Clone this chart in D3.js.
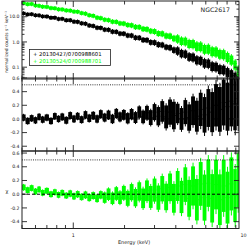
<!DOCTYPE html>
<html><head><meta charset="utf-8">
<script src="https://cdn.jsdelivr.net/npm/d3@7"></script>
<style>body{margin:0;background:#fff}svg{display:block}text{font-family:"DejaVu Sans",sans-serif}</style>
</head><body><svg id="c" width="249" height="249"></svg>
<script>
const energies=[0.51,0.54,0.57,0.60,0.63,0.66,0.70,0.74,0.78,0.82,0.86,0.91,0.96,1.01,1.06,1.12,1.18,1.24,1.31,1.38,1.45,1.53,1.61,1.70,1.79,1.88,1.98,2.09,2.20,2.32,2.44,2.57,2.71,2.85,3.00,3.16,3.33,3.51,3.70,3.90,4.10,4.32,4.55,4.79,5.05,5.32,5.60,5.90,6.21,6.54,6.89,7.26,7.64,8.05,8.48,8.93,9.3];
const greenCounts=[35.5,32,32.5,28.5,27.5,25.5,25,22.5,22,20,19.8,18.2,17.8,16.3,16.1,14.2,13.5,11.7,11.1,9.4,9.0,7.8,7.5,6.5,6.4,5.6,5.5,4.85,4.7,4.05,4.0,3.4,3.3,2.8,2.7,2.25,2.2,1.82,1.78,1.45,1.44,1.18,1.15,0.93,0.92,0.74,0.73,0.58,0.59,0.47,0.46,0.37,0.36,0.28,0.22,0.14,0.08];
const greenCountsErr=[7,6.5,6.5,5.8,5.6,5.2,5.1,4.6,4.5,4.1,4.1,3.8,3.7,3.4,3.4,3.0,2.9,2.5,2.4,2.1,2.0,1.75,1.7,1.5,1.5,1.35,1.35,1.2,1.2,1.05,1.05,0.92,0.92,0.78,0.78,0.66,0.66,0.56,0.56,0.47,0.6,0.5,0.5,0.42,0.42,0.35,0.35,0.28,0.29,0.23,0.23,0.18,0.18,0.14,0.11,0.07,0.04];
const blackCounts=[13.8,12.6,12.8,11.6,11.5,10.5,10.4,9.3,9.3,8.3,8.4,7.4,7.4,6.5,6.4,5.6,5.4,4.6,4.4,3.75,3.7,3.15,3.1,2.62,2.58,2.2,2.18,1.86,1.84,1.52,1.5,1.24,1.22,1.0,0.98,0.82,0.79,0.65,0.62,0.5,0.48,0.38,0.36,0.28,0.27,0.21,0.2,0.16,0.155,0.12,0.115,0.092,0.088,0.07,0.058,0.046,0.04];
const blackCountsErr=[2.7,2.5,2.5,2.3,2.3,2.1,2.1,1.9,1.9,1.7,1.7,1.55,1.55,1.38,1.38,1.2,1.15,1.0,0.97,0.84,0.83,0.72,0.71,0.62,0.61,0.53,0.53,0.46,0.46,0.39,0.39,0.33,0.33,0.28,0.28,0.24,0.23,0.19,0.19,0.16,0.2,0.16,0.15,0.12,0.12,0.095,0.09,0.075,0.072,0.058,0.055,0.045,0.043,0.035,0.029,0.023,0.02];
const blackResid=[0.02,-0.03,0.01,-0.02,0.03,-0.01,0.02,-0.03,0.04,0.0,0.03,-0.02,0.05,0.0,0.04,-0.01,0.06,0.01,0.05,0.0,0.07,0.02,0.06,0.0,0.08,0.03,0.06,0.01,0.07,0.02,0.1,0.03,0.09,0.02,0.1,0.04,0.11,0.03,0.1,0.05,0.08,0.0,0.1,0.02,0.12,0.04,0.14,0.06,0.16,0.1,0.2,0.14,0.24,0.18,0.26,0.22,0.3];
const blackResidErr=[0.055,0.055,0.055,0.055,0.055,0.055,0.055,0.055,0.055,0.055,0.06,0.06,0.06,0.06,0.06,0.06,0.065,0.065,0.065,0.065,0.07,0.07,0.075,0.075,0.08,0.08,0.085,0.09,0.09,0.095,0.1,0.11,0.12,0.13,0.14,0.16,0.18,0.2,0.22,0.24,0.17,0.19,0.21,0.23,0.25,0.27,0.29,0.31,0.33,0.35,0.37,0.39,0.4,0.42,0.44,0.46,0.48];
const greenResid=[0.1,0.06,0.09,0.04,0.07,0.02,0.05,0.0,0.03,-0.01,0.02,-0.02,0.01,-0.03,0.0,-0.04,-0.01,-0.05,-0.02,-0.06,-0.01,-0.05,0.0,-0.06,0.01,-0.05,0.02,-0.06,0.03,-0.05,0.04,-0.06,0.05,-0.04,0.06,-0.05,0.08,-0.04,0.1,-0.06,0.12,-0.04,0.14,-0.06,0.12,-0.08,0.15,-0.05,0.16,-0.06,0.14,-0.08,0.12,-0.05,0.15,-0.02,0.2];
const greenResidErr=[0.05,0.05,0.05,0.05,0.05,0.05,0.05,0.05,0.05,0.05,0.05,0.05,0.055,0.055,0.055,0.055,0.06,0.06,0.06,0.065,0.065,0.09,0.1,0.1,0.11,0.11,0.12,0.13,0.14,0.15,0.16,0.17,0.18,0.19,0.2,0.21,0.22,0.23,0.24,0.25,0.26,0.28,0.3,0.32,0.34,0.36,0.38,0.4,0.41,0.42,0.43,0.44,0.45,0.45,0.46,0.46,0.47];
const seriesNames=["20130427/0700988601","20130524/0700988701"];
const seriesColors=["#000000","#00ff00"];
const xMajor=[1,10], xMajorLabels=["1","10"];
const xMinor=[0.5,0.6,0.7,0.8,0.9,2,3,4,5,6,7,8,9];
const countTicks=[0.1,1,10], countTickLabels=["0.1","1.0","10.0"];
const countMinor=[0.04,0.05,0.06,0.07,0.08,0.09,0.2,0.3,0.4,0.5,0.6,0.7,0.8,0.9,2,3,4,5,6,7,8,9,20,30,40];
const residTicks=[-0.4,-0.2,0,0.2,0.4,0.6], residTickLabels=["-0.4","-0.2","0.0","0.2","0.4","0.6"];

const svg=d3.select("#c");
const L=22,R=239;
const x=d3.scaleLog().domain([0.5,9.4]).range([L,R]);
const panels=[
 {y:d3.scaleLog().domain([0.034,42]).range([79,1]),data:[[blackCounts,blackCountsErr],[greenCounts,greenCountsErr]],ticks:countTicks,labels:countTickLabels,minor:countMinor,log:true},
 {y:d3.scaleLinear().domain([-0.47,0.6]).range([151,78]),data:[[blackResid,blackResidErr]],colors:[0],ticks:residTicks,labels:residTickLabels,minor:[],lines:true},
 {y:d3.scaleLinear().domain([-0.5,0.63]).range([228.5,151]),data:[[greenResid,greenResidErr]],colors:[1],ticks:residTicks,labels:residTickLabels,minor:[],lines:true,xlabels:true}
];
const edges=energies.map((e,i)=>{
  const lo=i>0?Math.sqrt(energies[i-1]*e):e*e/Math.sqrt(e*energies[1]);
  const hi=i<energies.length-1?Math.sqrt(energies[i+1]*e):e*e/Math.sqrt(e*energies[i-1]);
  return [lo,hi];
});
panels.forEach((p,pi)=>{
  const [y0,y1]=p.y.range();
  const top=Math.min(y0,y1),bot=Math.max(y0,y1);
  const cid="clip"+pi;
  svg.append("clipPath").attr("id",cid).append("rect").attr("x",L).attr("y",top).attr("width",R-L).attr("height",bot-top);
  const g=svg.append("g").attr("clip-path",`url(#${cid})`);
  const floor=p.y.domain()[0]*0.5;
  p.data.forEach(([vals,errs],si)=>{
    const col=seriesColors[p.colors?p.colors[si]:si];
    const sg=g.append("g").attr("fill",col).attr("stroke",col);
    vals.forEach((v,i)=>{
      const lo=p.log?Math.max(v-errs[i],floor):v-errs[i];
      const ya=p.y(v+errs[i]), yb=p.y(lo);
      const xa=x(edges[i][0]), xb=x(edges[i][1]), xc=x(energies[i]);
      const f=p.log?0.12:0.08;
      sg.append("rect").attr("x",xa).attr("width",xb-xa).attr("y",ya+(yb-ya)*f).attr("height",(yb-ya)*(1-2*f)).attr("stroke","none");
      sg.append("line").attr("x1",xc).attr("x2",xc).attr("y1",yb).attr("y2",ya).attr("stroke-width",1);
      sg.append("line").attr("x1",xa).attr("x2",xb).attr("y1",p.y(v)).attr("y2",p.y(v)).attr("stroke-width",1);
    });
  });
  if(p.lines){
    g.append("line").attr("x1",L).attr("x2",R).attr("y1",p.y(0.5)).attr("y2",p.y(0.5)).attr("stroke","#000").attr("stroke-width",0.8).attr("stroke-dasharray","1,1.2");
    g.append("line").attr("x1",L).attr("x2",R).attr("y1",p.y(0)).attr("y2",p.y(0)).attr("stroke","#000").attr("stroke-width",1).attr("stroke-dasharray","3,2");
  }
  svg.append("rect").attr("x",L).attr("y",top).attr("width",R-L).attr("height",bot-top).attr("fill","none").attr("stroke","#222").attr("stroke-width",1);
  const tk=svg.append("g").attr("stroke","#222").attr("stroke-width",0.9);
  const xt=(v,len)=>{ if(v<0.5||v>9.4)return; const px=x(v);
    tk.append("line").attr("x1",px).attr("x2",px).attr("y1",bot).attr("y2",bot-len);
    tk.append("line").attr("x1",px).attr("x2",px).attr("y1",top).attr("y2",top+len);};
  xMajor.forEach(v=>xt(v,6)); xMinor.forEach(v=>xt(v,3.5));
  const yt=(v,len)=>{ const py=p.y(v); if(py<top-0.5||py>bot+0.5)return;
    tk.append("line").attr("x1",L).attr("x2",L+len).attr("y1",py).attr("y2",py);
    tk.append("line").attr("x1",R).attr("x2",R-len).attr("y1",py).attr("y2",py);};
  p.ticks.forEach(v=>yt(v,5)); p.minor.forEach(v=>yt(v,2.5));
  p.ticks.forEach((v,i)=>{ const py=p.y(v); if(py<top-2||py>bot+2)return;
    svg.append("text").attr("x",19.5).attr("y",py).attr("dy","0.35em").attr("text-anchor","end").attr("font-size",4.6).attr("fill","#222").text(p.labels[i]);});
  if(p.xlabels){
    xMajor.forEach((v,i)=>svg.append("text").attr("x",x(v)).attr("y",237).attr("text-anchor","middle").attr("font-size",4.8).attr("fill","#222").text(xMajorLabels[i]));
  }
});
svg.append("text").attr("transform","translate(7.5,42) rotate(-90)").attr("text-anchor","middle").attr("font-size",4.4).attr("fill","#222").text("normalized counts s\u207B\u00B9 keV\u207B\u00B9");
svg.append("text").attr("x",7).attr("y",193).attr("text-anchor","middle").attr("font-size",5).attr("fill","#222").text("\u03C7");
svg.append("text").attr("x",134).attr("y",244).attr("text-anchor","middle").attr("font-size",5).attr("fill","#222").text("Energy (keV)");
svg.append("text").attr("x",230).attr("y",12).attr("text-anchor","end").attr("font-size",6.2).attr("fill","#222").text("NGC2617");
svg.append("rect").attr("x",29.5).attr("y",49.5).attr("width",81).attr("height",16).attr("fill","#fff").attr("stroke","#222").attr("stroke-width",0.8);
seriesNames.forEach((n,i)=>svg.append("text").attr("x",33).attr("y",55.8+i*7.3).attr("font-size",5.3).attr("fill",seriesColors[i]).text("+ "+n));
</script></body></html>
